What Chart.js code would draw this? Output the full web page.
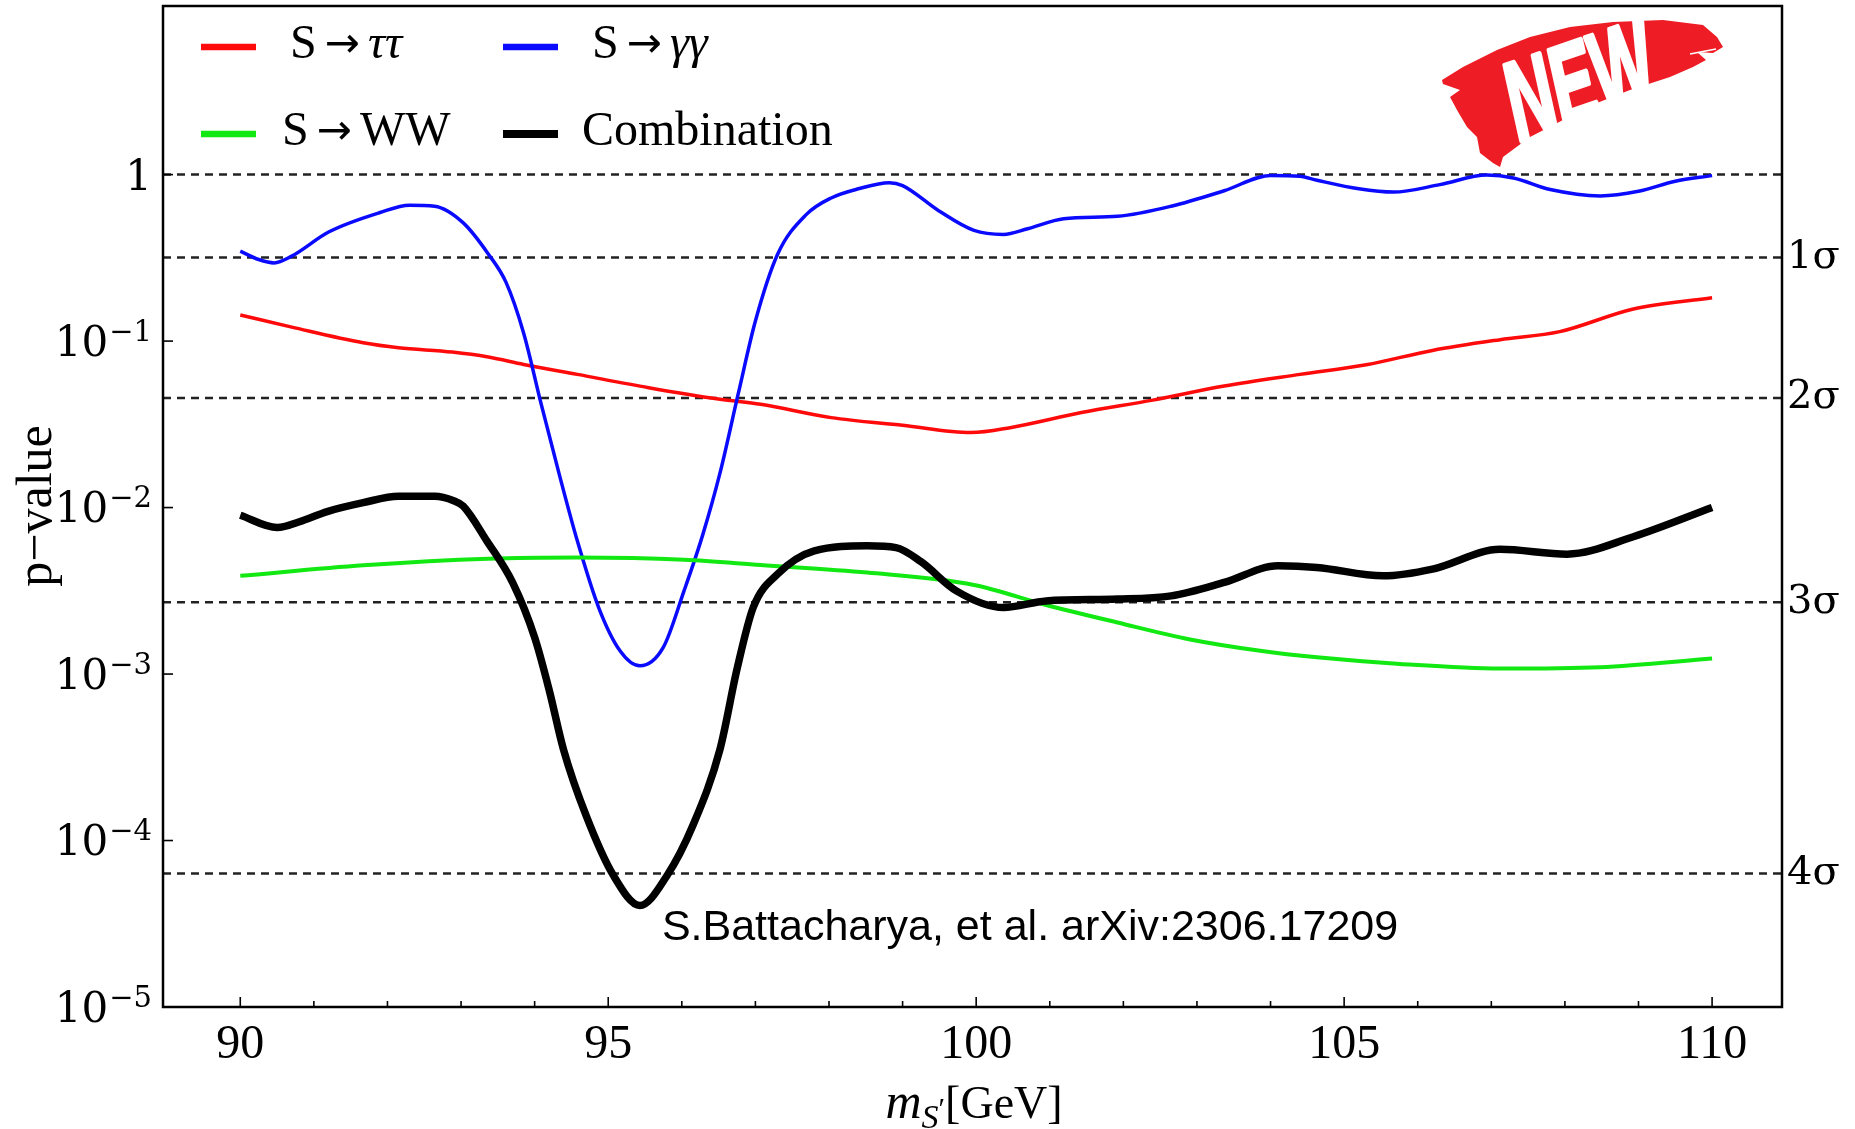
<!DOCTYPE html>
<html>
<head>
<meta charset="utf-8">
<script src="https://cdn.jsdelivr.net/npm/chart.js@4.4.0/dist/chart.umd.min.js"></script>
<style>
  html, body { margin: 0; padding: 0; background: #fff; }
  #wrap { width: 1855px; height: 1129px; }
</style>
</head>
<body>
<div id="wrap"><canvas id="pvalues"></canvas></div>
<script>
// p-values, per channel
const massTauTau = [90, 90.7, 91.67, 92.15, 92.88, 93.37, 93.85, 94.58, 95.55, 96.52, 97.07, 98.03, 99.0, 99.93, 100.46, 101.43, 102.4, 103.37, 104.4, 105.3, 106.2, 107.12, 107.93, 108.93, 110];
const pTauTau = [0.1436, 0.1213, 0.0977, 0.0912, 0.0859, 0.0802, 0.0724, 0.0631, 0.0525, 0.0447, 0.0417, 0.0347, 0.0312, 0.0282, 0.0302, 0.0372, 0.0442, 0.0537, 0.0631, 0.0721, 0.0879, 0.102, 0.114, 0.156, 0.182];

const massGammaGamma = [90.0, 90.25, 90.46, 90.7, 91.2, 91.9, 92.3, 92.64, 93.03, 93.37, 93.61, 93.85, 94.09, 94.34, 94.58, 94.87, 95.16, 95.43, 95.75, 96.03, 96.28, 96.52, 96.77, 97.0, 97.3, 97.69, 98.03, 98.4, 98.82, 99.0, 99.49, 99.97, 100.37, 100.7, 101.19, 101.92, 102.65, 103.37, 104.0, 104.4, 104.63, 105.2, 105.67, 106.3, 106.94, 107.3, 107.8, 108.48, 109.0, 109.5, 110.0];
const pGammaGamma = [0.347, 0.309, 0.295, 0.324, 0.452, 0.592, 0.655, 0.646, 0.513, 0.334, 0.226, 0.112, 0.0417, 0.0155, 0.00631, 0.00251, 0.00138, 0.00112, 0.00145, 0.00316, 0.00676, 0.0162, 0.049, 0.132, 0.331, 0.575, 0.724, 0.822, 0.895, 0.859, 0.607, 0.462, 0.437, 0.473, 0.543, 0.562, 0.646, 0.80, 0.989, 0.977, 0.925, 0.822, 0.785, 0.871, 0.993, 0.955, 0.813, 0.745, 0.794, 0.912, 0.986];

const massWW = [90, 91.67, 93.37, 94.58, 96.03, 97.07, 98.52, 99.97, 100.95, 101.92, 102.89, 103.86, 104.63, 105.76, 107.12, 108.48, 110];
const pWW = [0.00389, 0.0045, 0.00493, 0.00501, 0.00486, 0.00452, 0.00407, 0.00343, 0.0026, 0.00204, 0.00162, 0.00138, 0.00126, 0.00115, 0.00108, 0.0011, 0.00124];

const massComb = [90, 90.5, 90.84, 91.18, 91.67, 92.15, 92.64, 92.9, 93.03, 93.35, 93.7, 94.0, 94.2, 94.39, 94.7, 95.07, 95.43, 95.8, 96.15, 96.52, 96.75, 96.97, 97.3, 97.8, 98.52, 98.91, 99.25, 99.73, 100.37, 100.95, 101.92, 102.65, 103.37, 104.1, 104.63, 105.53, 106.2, 107.12, 108.03, 108.93, 110];
const pComb = [0.00899, 0.00759, 0.00832, 0.00946, 0.0107, 0.0117, 0.0117, 0.011, 0.0102, 0.00631, 0.00355, 0.00166, 0.000794, 0.000355, 0.000141, 0.0000617, 0.0000407, 0.0000617, 0.000123, 0.000355, 0.00107, 0.00251, 0.00398, 0.0055, 0.00589, 0.00575, 0.00473, 0.00316, 0.00251, 0.00275, 0.00282, 0.00295, 0.00355, 0.00447, 0.00437, 0.00389, 0.00427, 0.00562, 0.00525, 0.00668, 0.01];

const seriesLabels = ['S → ττ', 'S → γγ', 'S → WW', 'Combination'];

// reference lines: p = 1 and the 1σ..4σ levels
const sigmaLevels = [0.3173, 0.0455, 0.0027, 0.00006334];
const sigmaLabels = ['1σ', '2σ', '3σ', '4σ'];
const refLevels = [1, ...sigmaLevels];

const decadeTicks = [1e-5, 1e-4, 1e-3, 1e-2, 1e-1, 1];
const massTicks = [90, 91, 92, 93, 94, 95, 96, 97, 98, 99, 100, 101, 102, 103, 104, 105, 106, 107, 108, 109, 110];

const xMin = 88.95, xMax = 110.95;
const yMin = 1e-5, yMax = 10.3;

const credit = 'S.Battacharya, et al. arXiv:2306.17209';

const zip = (xs, ys) => xs.map((x, i) => ({ x: x, y: ys[i] }));

function curve(label, xs, ys, color, width) {
  return {
    label: label, data: zip(xs, ys), borderColor: color, backgroundColor: color,
    borderWidth: width, pointRadius: 0, fill: false, cubicInterpolationMode: 'monotone'
  };
}

const datasets = [
  curve(seriesLabels[3], massComb, pComb, '#000000', 7.5),
  curve(seriesLabels[2], massWW, pWW, '#12e812', 4),
  curve(seriesLabels[1], massGammaGamma, pGammaGamma, '#0a0aff', 3.5),
  curve(seriesLabels[0], massTauTau, pTauTau, '#ff0a0a', 3.5)
];
refLevels.forEach(v => {
  datasets.push({
    label: 'ref', data: [{ x: xMin, y: v }, { x: xMax, y: v }],
    borderColor: '#222', borderWidth: 2.5, borderDash: [8, 6], pointRadius: 0, fill: false
  });
});

// "S → xx" with a wide arrow and the greek part in italics
function drawLabel(ctx, text, x, y, size) {
  const m = text.match(/^(\S+) → (\S+)$/);
  ctx.font = size + 'px "Liberation Serif"';
  if (!m) { ctx.fillText(text, x, y); return; }
  ctx.fillText(m[1], x, y);
  let cx = x + ctx.measureText(m[1]).width + 8;
  ctx.font = (size - 6) + 'px "DejaVu Sans"';
  ctx.fillText('→', cx, y + 1);
  cx += ctx.measureText('→').width + 8;
  ctx.font = (/[α-ω]/.test(m[2]) ? 'italic ' : '') + size + 'px "Liberation Serif"';
  ctx.fillText(m[2], cx, y);
}

const noEdgePadding = s => { s.paddingTop = 0; s.paddingBottom = 0; };

const decorations = {
  id: 'decorations',
  afterDatasetsDraw(chart) {
    const ctx = chart.ctx;
    const a = chart.chartArea;
    const xs = chart.scales.x, ys = chart.scales.y;
    ctx.save();

    // frame
    ctx.strokeStyle = '#000';
    ctx.lineWidth = 2.5;
    ctx.strokeRect(a.left, a.top, a.right - a.left, a.bottom - a.top);

    // inward tick marks
    ctx.lineWidth = 1.6;
    massTicks.forEach(v => {
      const px = xs.getPixelForValue(v);
      const len = v % 5 === 0 ? 10 : 6;
      ctx.beginPath(); ctx.moveTo(px, a.bottom); ctx.lineTo(px, a.bottom - len); ctx.stroke();
    });
    decadeTicks.forEach(v => {
      const py = ys.getPixelForValue(v);
      ctx.beginPath(); ctx.moveTo(a.left, py); ctx.lineTo(a.left + 10, py); ctx.stroke();
    });

    // decade labels 10^n
    ctx.fillStyle = '#000';
    ctx.textBaseline = 'middle';
    ctx.textAlign = 'left';
    decadeTicks.forEach(v => {
      const py = ys.getPixelForValue(v);
      const e = Math.round(Math.log10(v));
      const right = a.left - 11;
      if (e === 0) {
        ctx.font = '42px "DejaVu Serif"';
        const w = ctx.measureText('1').width;
        ctx.fillText('1', right - w, py + 4);
        return;
      }
      const sup = '−' + Math.abs(e);
      ctx.font = '29px "DejaVu Serif"';
      const ws = ctx.measureText(sup).width;
      ctx.fillText(sup, right - ws, py - 8);
      ctx.font = '42px "DejaVu Serif"';
      const wb = ctx.measureText('10').width;
      ctx.fillText('10', right - ws - wb - 1, py + 4);
    });

    // axis titles
    ctx.save();
    ctx.translate(38, 506);
    ctx.rotate(-Math.PI / 2);
    ctx.textAlign = 'center';
    ctx.font = '50px "Liberation Serif"';
    ctx.fillText('p−value', 0, 0);
    ctx.restore();

    ctx.textBaseline = 'alphabetic';
    const parts = [
      { t: 'm', f: 'italic 50px "Liberation Serif"', dy: 0 },
      { t: 'S', f: 'italic 34px "Liberation Serif"', dy: 10 },
      { t: '′', f: '30px "Liberation Serif"', dy: 0 },
      { t: '[GeV]', f: '46px "Liberation Serif"', dy: 0 }
    ];
    let total = 0;
    parts.forEach(p => { ctx.font = p.f; p.w = ctx.measureText(p.t).width; total += p.w; });
    let cx = 974 - total / 2;
    const base = 1118;
    parts.forEach(p => { ctx.font = p.f; ctx.fillText(p.t, cx, base + p.dy); cx += p.w; });

    // legend
    const slots = [[201, 45, 89], [503, 45, 89], [201, 132, 81], [503, 132, 79]];
    const legendItems = [datasets[3], datasets[2], datasets[1], datasets[0]];
    ctx.textBaseline = 'middle';
    legendItems.forEach((d, i) => {
      const [lx, ly, tx] = slots[i];
      ctx.strokeStyle = d.borderColor;
      ctx.lineWidth = d.borderWidth > 5 ? 8 : 6.5;
      ctx.beginPath(); ctx.moveTo(lx, ly + 2); ctx.lineTo(lx + 55, ly + 2); ctx.stroke();
      ctx.fillStyle = '#000';
      drawLabel(ctx, d.label, lx + tx, ly, 48);
    });

    // credit line
    ctx.font = '43px "Liberation Sans"';
    ctx.textAlign = 'center';
    ctx.fillText(credit, 1030, 928);

    // "NEW" stamp
    const blob = [[1442,80],[1463,67],[1497,50],[1530,37],[1570,27],[1613,22],[1663,20],[1703,25],[1717,37],[1723,47],[1713,53],[1697,52],[1706,60],[1693,67],[1670,77],[1630,90],[1597,103],[1563,120],[1530,137],[1503,157],[1500,167],[1493,163],[1480,153],[1477,137],[1467,127],[1457,110],[1450,97],[1460,90],[1443,84]];
    ctx.fillStyle = '#ee1c24';
    ctx.beginPath();
    blob.forEach((p, i) => i ? ctx.lineTo(p[0], p[1]) : ctx.moveTo(p[0], p[1]));
    ctx.closePath();
    ctx.fill();
    ctx.strokeStyle = '#fff';
    ctx.lineWidth = 1.5;
    ctx.beginPath(); ctx.moveTo(1568, 121); ctx.quadraticCurveTo(1620, 95, 1682, 80); ctx.stroke();
    ctx.beginPath(); ctx.moveTo(1690, 54); ctx.lineTo(1716, 49); ctx.stroke();
    ctx.save();
    ctx.translate(1580, 84);
    ctx.rotate(-19 * Math.PI / 180);
    ctx.scale(0.58, 1);
    ctx.fillStyle = '#fff';
    ctx.strokeStyle = '#fff';
    ctx.lineWidth = 5;
    ctx.lineJoin = 'round';
    ctx.textAlign = 'center';
    ctx.textBaseline = 'middle';
    ctx.font = 'italic bold 112px "Liberation Sans"';
    ctx.fillText('NEW', 0, 4);
    ctx.strokeText('NEW', 0, 4);
    ctx.restore();

    ctx.restore();
  }
};

new Chart(document.getElementById('pvalues'), {
  type: 'line',
  data: { datasets: datasets },
  options: {
    responsive: true,
    maintainAspectRatio: false,
    animation: false,
    events: [],
    layout: { padding: { top: 6, left: 0, right: 0, bottom: 0 } },
    plugins: { legend: { display: false }, tooltip: { enabled: false } },
    scales: {
      x: {
        type: 'linear', min: xMin, max: xMax,
        afterBuildTicks: s => { s.ticks = massTicks.map(v => ({ value: v })); },
        afterFit: s => { s.height = 122; s.paddingLeft = 0; s.paddingRight = 0; },
        grid: { display: false, drawTicks: false },
        border: { display: false },
        ticks: {
          autoSkip: false, maxRotation: 0, padding: 10, color: '#000',
          font: { family: 'Liberation Serif', size: 48 },
          callback: v => (v % 5 === 0 ? String(v) : '')
        }
      },
      y: {
        type: 'logarithmic', position: 'left', min: yMin, max: yMax,
        afterBuildTicks: s => { s.ticks = decadeTicks.map(v => ({ value: v })); },
        afterFit: s => { s.width = 163; noEdgePadding(s); },
        grid: { display: false, drawTicks: false },
        border: { display: false },
        ticks: { display: false }
      },
      sigma: {
        type: 'logarithmic', position: 'right', min: yMin, max: yMax,
        afterBuildTicks: s => { s.ticks = sigmaLevels.map(v => ({ value: v })); },
        afterFit: s => { s.width = 73; noEdgePadding(s); },
        grid: { display: false, drawTicks: false },
        border: { display: false },
        ticks: {
          autoSkip: false, padding: 5, color: '#000',
          font: { family: 'DejaVu Serif', size: 40 },
          callback: (v, i) => sigmaLabels[i]
        }
      }
    }
  },
  plugins: [decorations]
});
</script>
</body>
</html>
